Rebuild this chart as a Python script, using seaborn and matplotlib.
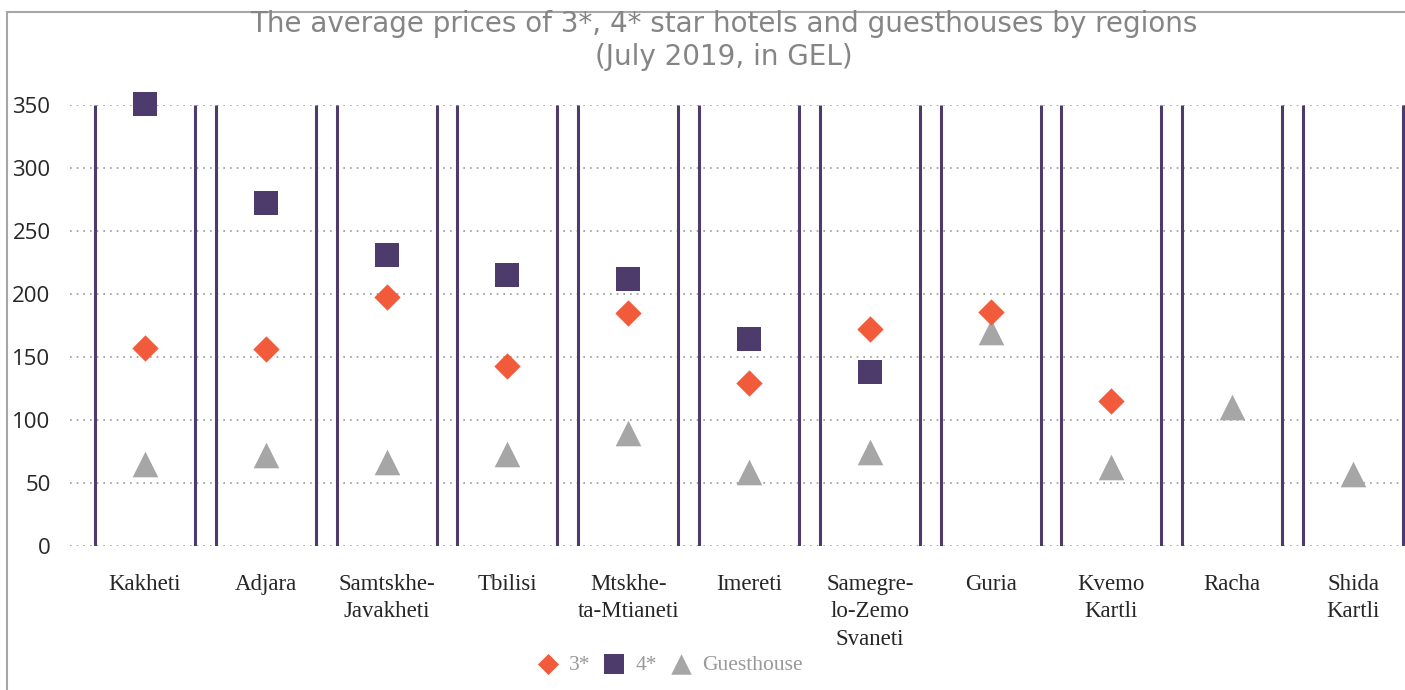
import pandas as pd
import numpy as np
import matplotlib
matplotlib.use('Agg')
import matplotlib.pyplot as plt
from matplotlib.patches import Rectangle
import seaborn as sns

# data (GEL)
regions = ['Kakheti', 'Adjara', 'Samtskhe-\nJavakheti', 'Tbilisi', 'Mtskhe-\nta-Mtianeti', 'Imereti',
           'Samegre-\nlo-Zemo\nSvaneti', 'Guria', 'Kvemo\nKartli', 'Racha', 'Shida\nKartli']
star3 = [157, 156, 198, 143, 185, 129, 172, 186, 115, np.nan, np.nan]
star4 = [351, 272, 231, 215, 212, 164, 138, np.nan, np.nan, np.nan, np.nan]
guest = [65, 72, 67, 73, 90, 59, 75, 170, 63, 110, 57]

df = pd.DataFrame({'x': range(len(regions)), '3*': star3, '4*': star4, 'Guesthouse': guest})
long_df = df.melt(id_vars='x', var_name='type', value_name='price').dropna()

sns.set_style('white')
plt.rcParams['font.family'] = ['DejaVu Sans']

fig = plt.figure(figsize=(14.05, 6.9), dpi=100)
ax = fig.add_axes([70 / 1405, 144 / 690, (1405 - 70) / 1405, 441 / 690])

palette = {'3*': '#F15B3B', '4*': '#4D3B6B', 'Guesthouse': '#A6A6A6'}
markers = {'3*': 'D', '4*': 's', 'Guesthouse': '^'}
sizes = {'3*': 180, '4*': 300, 'Guesthouse': 340}
for t in ['Guesthouse', '3*', '4*']:
    sub = long_df[long_df['type'] == t]
    sns.scatterplot(data=sub, x='x', y='price', color=palette[t], marker=markers[t],
                    s=sizes[t], linewidth=0, ax=ax, zorder=4, clip_on=False, label=t)

# category frames
xs = np.arange(len(regions))
ax.vlines(np.concatenate([xs - 0.414, xs + 0.414]), 0, 350, color='#4D3B6B', lw=2.2, zorder=3)

ax.set_xlim(-0.62, 10.43)
ax.set_ylim(0, 350)
ax.set_yticks(range(0, 351, 50))
ax.yaxis.grid(True, linestyle=(0, (1, 3)), color='#999999', lw=1.2)
ax.set_axisbelow(True)
for s in ax.spines.values():
    s.set_visible(False)
ax.set_xticks(xs)
ax.set_xticklabels(regions, family='Liberation Serif', fontsize=16.5, linespacing=1.4, va='top')
ax.tick_params(axis='x', length=0, pad=20)
ax.tick_params(axis='y', length=0, pad=14, labelsize=16)
for lab in ax.get_yticklabels():
    lab.set_family('Open Sans')
ax.set_xlabel('')
ax.set_ylabel('')

fig.text(0.515, 0.965, 'The average prices of 3*, 4* star hotels and guesthouses by regions',
         ha='center', va='center', fontsize=20, color='#858585')
fig.text(0.515, 0.918, '(July 2019, in GEL)', ha='center', va='center', fontsize=20, color='#858585')

# outer frame
fig.patches.append(Rectangle((7 / 1405, -0.1), 1.1, 1.1 - 12 / 690, transform=fig.transFigure,
                             fill=False, edgecolor='#A6A6A6', lw=1.5))

handles, labels = ax.get_legend_handles_labels()
order = [labels.index(l) for l in ['3*', '4*', 'Guesthouse']]
leg = ax.legend([handles[i] for i in order], ['3*', '4*', 'Guesthouse'], loc='center',
                bbox_to_anchor=(670 / 1405, 25 / 690), bbox_transform=fig.transFigure, ncol=3, frameon=False,
                handlelength=1.0, handletextpad=0.5, columnspacing=0.6, markerscale=0.8,
                prop={'family': 'Liberation Serif', 'size': 15.5})
for t in leg.get_texts():
    t.set_color('#999999')

fig.savefig('out.png', dpi=100)
